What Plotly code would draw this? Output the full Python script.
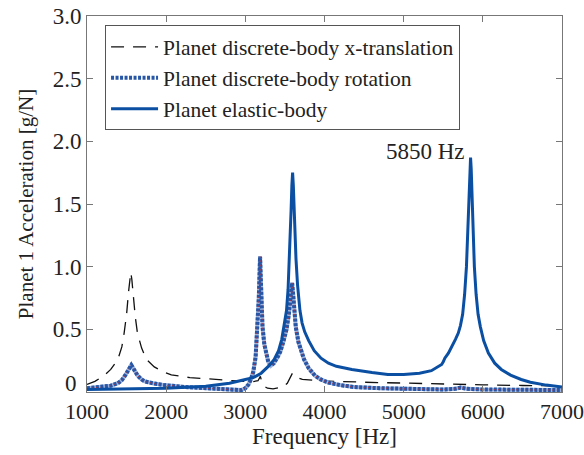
import plotly.graph_objects as go

# ---- data ----
freq_x = [1000, 1100, 1226, 1300, 1390, 1440, 1469, 1500, 1525, 1540, 1553, 1566, 1583, 1610, 1637,
          1690, 1751, 1850, 1950, 2065, 2300, 2650, 2900, 3100, 3160, 3190, 3200, 3230, 3280, 3350,
          3420, 3480, 3530, 3570, 3595, 3620, 3660, 3720, 3800, 4000, 4500, 5000, 5500, 6000, 6500, 7000]
acc_x = [0.06, 0.085, 0.136, 0.18, 0.26, 0.36, 0.47, 0.62, 0.8, 0.9, 0.955, 0.9, 0.78, 0.6, 0.47,
         0.35, 0.26, 0.2, 0.165, 0.136, 0.115, 0.096, 0.088, 0.083, 0.09, 0.125, 0.1, 0.05, 0.03, 0.025,
         0.03, 0.04, 0.07, 0.12, 0.15, 0.14, 0.115, 0.1, 0.095, 0.088, 0.078, 0.07, 0.062, 0.057, 0.052, 0.048]

freq_rot = [1000, 1226, 1300, 1390, 1440, 1480, 1520, 1545, 1560, 1575, 1600, 1640, 1690, 1730, 1850,
            1981, 2233, 2500, 2800, 2950, 3000, 3040, 3070, 3100, 3130, 3155, 3170, 3180, 3186, 3193,
            3205, 3217, 3240, 3260, 3290, 3323, 3360, 3400, 3440, 3480, 3520, 3550, 3575, 3591, 3605,
            3620, 3637, 3670, 3710, 3742, 3800, 3880, 3952, 4050, 4200, 4371, 4700, 5000, 5500, 5650,
            5720, 5800, 6000, 6500, 7000]
acc_rot = [0.03, 0.04, 0.05, 0.07, 0.095, 0.13, 0.17, 0.2, 0.215, 0.2, 0.17, 0.13, 0.1, 0.085, 0.067,
           0.055, 0.04, 0.03, 0.02, 0.015, 0.03, 0.06, 0.1, 0.16, 0.28, 0.52, 0.75, 0.95, 1.08, 0.95,
           0.7, 0.52, 0.38, 0.31, 0.24, 0.21, 0.23, 0.27, 0.32, 0.4, 0.5, 0.62, 0.76, 0.87, 0.77,
           0.62, 0.52, 0.4, 0.31, 0.26, 0.19, 0.13, 0.1, 0.075, 0.055, 0.04, 0.03, 0.025, 0.02, 0.025,
           0.035, 0.025, 0.02, 0.018, 0.015]

freq_el = [1000, 1500, 2000, 2500, 2800, 3000, 3100, 3200, 3300, 3365, 3420, 3460, 3490, 3520, 3540,
           3553, 3565, 3578, 3588, 3597, 3606, 3616, 3628, 3640, 3660, 3690, 3717, 3750, 3800, 3870,
           3956, 4050, 4150, 4346, 4600, 4800, 5000, 5200, 5350, 5440, 5480, 5500, 5520, 5565, 5610,
           5654, 5690, 5717, 5745, 5770, 5793, 5810, 5825, 5837, 5845, 5853, 5865, 5878, 5893, 5915,
           5940, 5969, 6010, 6070, 6150, 6233, 6350, 6484, 6600, 6800, 7000]
acc_el = [0.02, 0.022, 0.03, 0.045, 0.07, 0.1, 0.115, 0.15, 0.21, 0.26, 0.33, 0.42, 0.52, 0.65, 0.82,
          1.0, 1.2, 1.45, 1.65, 1.75, 1.65, 1.45, 1.22, 1.06, 0.85, 0.65, 0.55, 0.48, 0.41, 0.33,
          0.27, 0.23, 0.205, 0.18, 0.155, 0.14, 0.14, 0.15, 0.17, 0.2, 0.22, 0.24, 0.27, 0.31, 0.36,
          0.42, 0.47, 0.53, 0.62, 0.78, 1.0, 1.25, 1.55, 1.78, 1.87, 1.78, 1.55, 1.25, 1.0, 0.78,
          0.62, 0.52, 0.41, 0.31, 0.23, 0.18, 0.135, 0.1, 0.078, 0.055, 0.04]

y_ticks = [0.5, 1.0, 1.5, 2.0, 2.5, 3.0]
y_tick_text = ["0.5", "1.0", "1.5", "2.0", "2.5", "3.0"]
x_ticks = [1000, 2000, 3000, 4000, 5000, 6000, 7000]

BLUE = "#0b4fa3"
FONT = "Liberation Serif"
TXT = "#222222"

fig = go.Figure()
fig.add_trace(go.Scatter(x=freq_x, y=acc_x, mode="lines",
                         name="Planet discrete-body x-translation",
                         line=dict(color="#111111", width=1.3, dash="13px,9px")))
# rotation: light base + blue dots + small red centres
fig.add_trace(go.Scatter(x=freq_rot, y=acc_rot, mode="lines", showlegend=False, hoverinfo="skip",
                         line=dict(color="#9fb3db", width=4)))
fig.add_trace(go.Scatter(x=freq_rot, y=acc_rot, mode="lines",
                         name="Planet discrete-body rotation",
                         line=dict(color="#2656a5", width=4, dash="3px,1.5px")))
fig.add_trace(go.Scatter(x=freq_rot, y=acc_rot, mode="lines", showlegend=False, hoverinfo="skip",
                         line=dict(color="#c0303a", width=1, dash="1px,3.5px")))
fig.add_trace(go.Scatter(x=freq_el, y=acc_el, mode="lines",
                         name="Planet elastic-body",
                         line=dict(color=BLUE, width=3)))

fig.add_annotation(x=5277, y=1.92, text="5850 Hz", showarrow=False,
                   font=dict(family=FONT, size=23, color=TXT))
# zero label of the y axis (drawn slightly raised, as in the reference)
fig.add_annotation(x=0, xref="paper", y=0.065, yref="y", text="0", showarrow=False,
                   xanchor="right", yanchor="middle", xshift=-8,
                   font=dict(family=FONT, size=23, color=TXT))

axis_common = dict(showline=True, linecolor="#777777", linewidth=1, mirror="ticks",
                   ticks="inside", ticklen=6, tickcolor="#777777", showgrid=False,
                   zeroline=False, ticklabeloverflow="allow", automargin=False)

fig.update_xaxes(range=[1000, 7000], tickvals=x_ticks,
                 tickfont=dict(family=FONT, size=22, color=TXT),
                 title=dict(text="Frequency [Hz]", font=dict(family=FONT, size=23, color=TXT),
                            standoff=4),
                 **axis_common)
fig.update_yaxes(range=[0, 3.0], tickvals=y_ticks, ticktext=y_tick_text,
                 tickfont=dict(family=FONT, size=23, color=TXT),
                 title=dict(text="Planet 1 Acceleration [g/N]",
                            font=dict(family=FONT, size=21, color=TXT), standoff=13),
                 **axis_common)

fig.update_layout(
    width=584, height=455,
    margin=dict(l=87, r=22, t=16, b=63),
    plot_bgcolor="white", paper_bgcolor="white",
    font=dict(family=FONT, size=22, color=TXT),
    legend=dict(x=0.038, y=0.975, xanchor="left", yanchor="top",
                bgcolor="white", bordercolor="#555555", borderwidth=1,
                font=dict(family=FONT, size=21.5, color=TXT),
                itemwidth=47, tracegroupgap=0),
    showlegend=True,
)

fig.write_html("out.html")
